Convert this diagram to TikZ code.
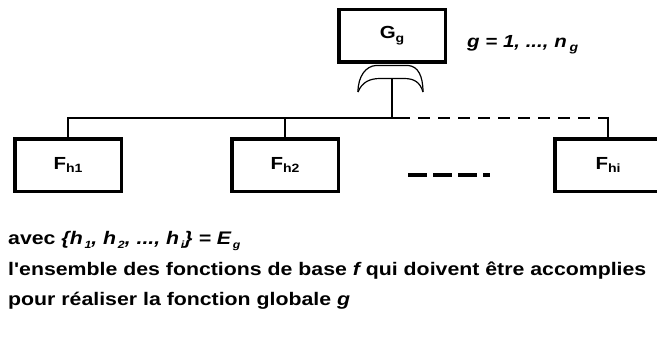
\documentclass[tikz,border=0pt]{standalone}
\usepackage{fontspec}
\setmainfont{Liberation Sans}[FakeStretch=1.17,Ligatures=TeXOff]
\newcommand\mysub[1]{\raisebox{-0.4ex}{\fontsize{12}{13}\selectfont #1}}
\newcommand\smsub[1]{\raisebox{-0.45ex}{\fontsize{10.5}{11}\selectfont #1}}
\begin{document}
\begin{tikzpicture}[x=1pt,y=-1pt,
  funcbox/.style={draw, line width=3.5pt, minimum width=106.5pt, minimum height=52.5pt, inner sep=0pt, font=\fontsize{17.5}{19}\selectfont\bfseries},
  busline/.style={line width=2.5pt},
  gateline/.style={line width=1.2pt},
  txt/.style={anchor=base west, inner sep=0pt, font=\fontsize{18.2}{20}\selectfont\bfseries}]
\useasboundingbox (0,0) rectangle (657,338);
\node[funcbox] (G) at (392,35.5) {G\mysub{g}};
\node[funcbox] (F1) at (68,165) {F\mysub{h1}};
\node[funcbox] (F2) at (285,165) {F\mysub{h2}};
\node[funcbox] (Fi) at (608,165) {F\mysub{hi}};
\node[anchor=west, inner sep=0pt, font=\fontsize{17.5}{19}\selectfont\bfseries\itshape] (eq) at (467,45) {g = 1, ..., n\,\mysub{g}};
% AND gate
\draw[gateline] (358,92) .. controls (358,76) and (366,66) .. (376,65.5) -- (408,65.5) .. controls (418,66) and (423,76) .. (423,92);
\draw[gateline] (358,92) .. controls (362,82) and (370,78.5) .. (380,78.5) -- (404,78.5) .. controls (414,78.5) and (420,82) .. (423,92);
\coordinate (gt) at (392,78.5);
\coordinate (b1) at (68,118);
\coordinate (b2) at (285,118);
\coordinate (bg) at (392,118);
\coordinate (bs) at (410,118);
\coordinate (bd) at (418,118);
\coordinate (bi) at (608,118);
\draw[line width=2pt] (gt) -- (bg);
\draw[busline] (F1.north) -- (b1) -- (bs);
\draw[busline] (F2.north) -- (b2);
\draw[busline, dash pattern=on 12pt off 8pt] (bd) -- (bi);
\draw[busline] ([yshift=1.25pt]bi) -- (Fi.north);
% ellipsis
\coordinate (e1) at (408,175);
\coordinate (e2) at (490,175);
\draw[line width=4pt, dash pattern=on 19pt off 6pt] (e1) -- (e2);
% text
\node[txt] (t1) at (8,244) {avec {\itshape\{h\smsub{\,1}, h\smsub{\,2}, ..., h\smsub{\,i}\} = E\smsub{\,g}}};
\node[txt] (t2) at (8,275) {l'ensemble des fonctions de base {\itshape f} qui doivent être accomplies};
\node[txt] (t3) at (8,305) {pour réaliser la fonction globale {\itshape g}};
\end{tikzpicture}
\end{document}
